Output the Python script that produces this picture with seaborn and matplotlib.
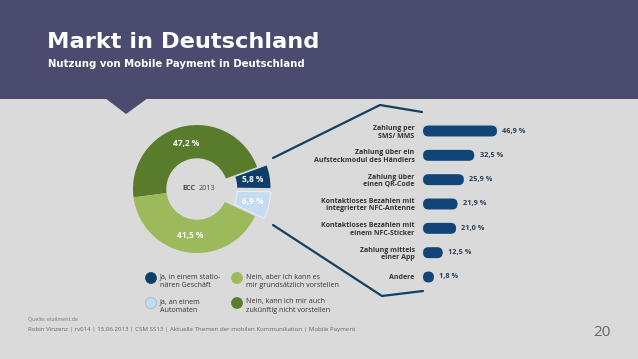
import matplotlib
matplotlib.use("Agg")
import math
import matplotlib.pyplot as plt
import seaborn as sns
from matplotlib.patches import FancyBboxPatch, Polygon, Rectangle, Circle
from matplotlib.lines import Line2D

# %% data
pie_labels = ["Ja, in einem statio-\nnären Geschäft",
              "Ja, an einem\nAutomaten",
              "Nein, aber ich kann es\nmir grundsätzlich vorstellen",
              "Nein, kann ich mir auch\nzukünftig nicht vorstellen"]
pie_values = [5.8, 6.9, 41.5, 47.2]
pie_colors = ["#0e3f6a", "#c4dbf1", "#9cb95b", "#587c2b"]

bar_labels = ["Zahlung per\nSMS/ MMS",
              "Zahlung über ein\nAufsteckmodul des Händlers",
              "Zahlung über\neinen QR-Code",
              "Kontaktloses Bezahlen mit\nintegrierter NFC-Antenne",
              "Kontaktloses Bezahlen mit\neinem NFC-Sticker",
              "Zahlung mittels\neiner App",
              "Andere"]
bar_values = [46.9, 32.5, 25.9, 21.9, 21.0, 12.5, 1.8]

title = "Markt in Deutschland"
subtitle = "Nutzung von Mobile Payment in Deutschland"
source = "Quelle: etailment.de"
footer = "Robin Vinzenz | rv014 | 15.06.2013 | CSM SS13 | Aktuelle Themen der mobilen Kommunikation | Mobile Payment"
page = "20"


def fmt(v):
    return f"{v:.1f}".replace(".", ",") + " %"


# %% figure
W, H = 638, 359
sns.set_theme(style="white")
plt.rcParams["font.family"] = ["Open Sans", "DejaVu Sans"]

BG = "#dadada"
HEAD = "#4a4b6e"
NAVY = "#0f4677"

fig = plt.figure(figsize=(W / 100, H / 100), dpi=100, facecolor=BG)


def px_box(x0, y0, x1, y1):
    return [x0 / W, 1 - y1 / H, (x1 - x0) / W, (y1 - y0) / H]


# background layer in pixel coords
bg = fig.add_axes([0, 0, 1, 1])
bg.set_xlim(0, W)
bg.set_ylim(H, 0)
bg.axis("off")
bg.set_facecolor("none")

bg.add_patch(Rectangle((0, 0), W, 99, color=HEAD, lw=0))
bg.add_patch(Polygon([(105, 98), (148, 98), (126, 114)], closed=True, color=HEAD, lw=0))
bg.text(47, 42, title, color="white", fontsize=16.2, fontweight="bold",
        family="DejaVu Sans", va="center", ha="left")
bg.text(48, 64, subtitle, color="white", fontsize=7.25, fontweight="bold",
        family="DejaVu Sans", va="center", ha="left")

bg.text(28, 320, source, color="#777777", fontsize=3.8, va="center")
bg.text(28, 329.5, footer, color="#666666", fontsize=4.4, va="center")
bg.text(602, 332, page, color="#666666", fontsize=11, va="center", ha="center")

# connector lines
bg.add_line(Line2D([273, 380, 422], [158, 105, 112], color="#123f63", lw=1.6))
bg.add_line(Line2D([273, 382, 423], [225, 296, 291], color="#123f63", lw=1.6))

# legend (manual, circles + two-line text)
leg_pos = [(151, 278), (151, 303), (237, 278), (237, 303)]
for (lx, ly), lab, col in zip(leg_pos, pie_labels, pie_colors):
    bg.add_patch(Circle((lx, ly), 5.5, facecolor=col,
                        edgecolor="#9fb3c8" if col == "#c4dbf1" else col, lw=0.5))
    bg.text(lx + 9, ly - 4.5, lab, fontsize=5.1, color="#333333", va="top", ha="left",
            linespacing=1.3)

# %% donut
cx, cy, R = 197, 189, 64
half = 1.3 * R
pax = fig.add_axes(px_box(cx - half, cy - half, cx + half, cy + half))
order = [3, 2, 1, 0]
wedges, _ = pax.pie([pie_values[i] for i in order],
                    colors=[pie_colors[i] for i in order],
                    explode=[0, 0, 0.15, 0.15],
                    startangle=20, counterclock=True,
                    wedgeprops=dict(width=0.52, linewidth=0))
wedges[2].set_edgecolor("#eef4fa")
wedges[2].set_linewidth(0.6)
pax.set_xlim(-1.3, 1.3)
pax.set_ylim(-1.3, 1.3)
pax.set_aspect("equal")
pax.axis("off")

for w, i in zip(wedges, order):
    ang = math.radians((w.theta1 + w.theta2) / 2)
    x0, y0 = w.center
    r = 0.74
    pax.text(x0 + r * math.cos(ang), y0 + r * math.sin(ang), fmt(pie_values[i]),
             color="white", fontsize=6, fontweight="bold", ha="center", va="center")

pax.text(-0.02, 0.0, "ECC", fontsize=5.2, fontweight="bold", color="#444444", ha="right", va="center")
pax.text(0.03, 0.0, "2013", fontsize=5.2, color="#444444", ha="left", va="center")

# %% bars
k = 74 / 46.9          # px per percent
step = 24.33           # px per category
bx = fig.add_axes(px_box(423, 131 - step / 2, 423 + 60 * k, 277 + step / 2))
bx.set_facecolor("none")
sns.barplot(x=bar_values, y=list(range(len(bar_values))), orient="h", color=NAVY,
            width=0.45, ax=bx)
bx.set_xlim(0, 60)
bx.set_ylim(len(bar_values) - 0.5, -0.5)

p0 = bx.transData.transform((0, 0))
p1 = bx.transData.transform((1, 1))
sx, sy = abs(p1[0] - p0[0]), abs(p1[1] - p0[1])

ends = []
for p in list(bx.patches):
    x, y, w, h = p.get_x(), p.get_y(), p.get_width(), p.get_height()
    r_px = abs(h) * sy / 2
    w = max(w, 2 * r_px / sx)
    ends.append(x + w)
    p.remove()
    bx.add_patch(FancyBboxPatch((x, y), w, h,
                                boxstyle=f"round,pad=0,rounding_size={r_px / sx}",
                                mutation_aspect=sx / sy,
                                facecolor=NAVY, edgecolor="none"))

for i, (v, e) in enumerate(zip(bar_values, ends)):
    bx.annotate(fmt(v), xy=(e, i), xytext=(3.8, 0), textcoords="offset points",
                va="center", ha="left", fontsize=5.3, fontweight="bold", color="#2c3e55")

bx.set_yticks(range(len(bar_labels)))
bx.set_yticklabels(bar_labels, fontsize=5.0, fontweight="bold", color="#333333",
                   linespacing=1.1)
bx.tick_params(axis="y", length=0, pad=6)
bx.set_xticks([])
bx.set_xlabel("")
bx.set_ylabel("")
sns.despine(ax=bx, left=True, bottom=True)

fig.savefig("out.png", dpi=100, facecolor=BG)
